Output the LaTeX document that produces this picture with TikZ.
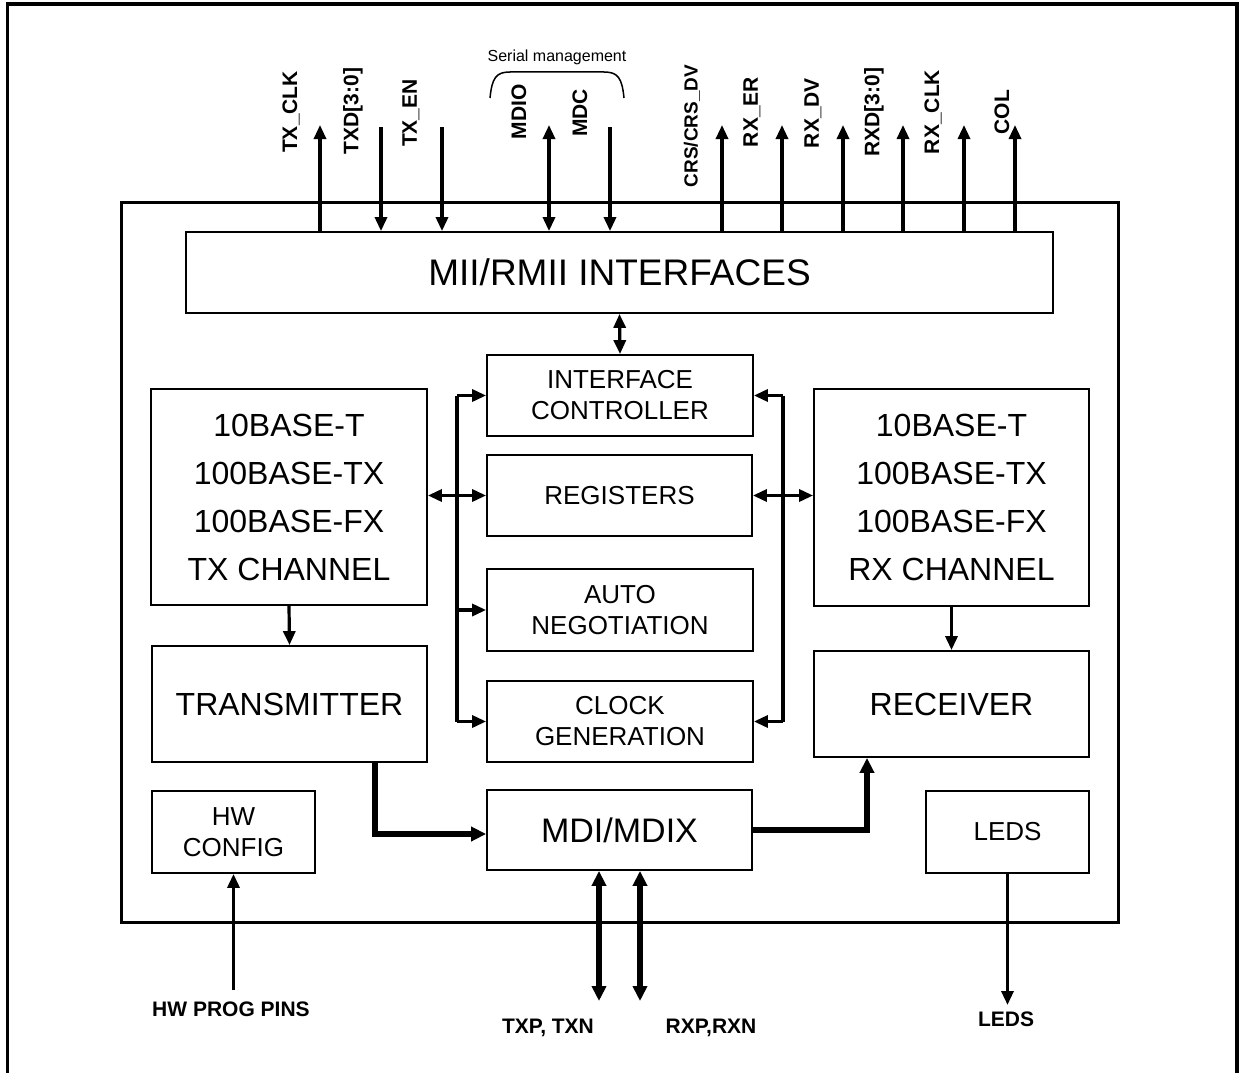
\documentclass[tikz,border=0pt]{standalone}
\usepackage{fontspec}
\setmainfont{Liberation Sans}
\usetikzlibrary{arrows.meta,calc}
\begin{document}
\begin{tikzpicture}[x=1pt,y=-1pt,
  box/.style={draw,line width=1.8pt,inner sep=0pt,align=center},
  conn/.style={line width=3.2pt},
  tipend/.style={-{Triangle[width=12pt,length=14pt]}},
  tipboth/.style={{Triangle[width=12pt,length=14pt]}-{Triangle[width=12pt,length=14pt]}},
  bigconn/.style={line width=5.5pt},
  bigend/.style={-{Triangle[width=14pt,length=15pt]}},
  bigboth/.style={{Triangle[width=14pt,length=15pt]}-{Triangle[width=14pt,length=15pt]}},
  sig/.style={font=\fontsize{21}{24}\selectfont\bfseries,rotate=90,inner sep=0pt},
  pin/.style={font=\fontsize{21}{24}\selectfont\bfseries,inner sep=0pt},
  midtxt/.style={font=\fontsize{26}{31}\selectfont},
  bigtxt/.style={font=\fontsize{32}{48}\selectfont}
]
\useasboundingbox (0,0) rectangle (1240,1073);
% outer frame (open at the bottom)
\draw[line width=3.5pt] (7.5,1073) -- (7.5,4) -- (1237,4) -- (1237,1073);

% main block
\node[draw,line width=3pt,inner sep=0pt,minimum width=997pt,minimum height=720pt] (main) at (619.5,562) {};

% boxes
\node[box,minimum width=867pt,minimum height=81pt,font=\fontsize{37}{44}\selectfont] (mii) at (619.5,272.5) {MII/RMII INTERFACES};
\node[box,midtxt,minimum width=266pt,minimum height=81pt] (ic) at (620,395.5) {INTERFACE\\CONTROLLER};
\node[box,midtxt,minimum width=265pt,minimum height=81pt] (reg) at (619.5,495.5) {REGISTERS};
\node[box,midtxt,minimum width=266pt,minimum height=82pt] (auto) at (620,610) {AUTO\\NEGOTIATION};
\node[box,midtxt,minimum width=266pt,minimum height=81pt] (clk) at (620,721.5) {CLOCK\\GENERATION};
\node[box,minimum width=265pt,minimum height=80pt,font=\fontsize{34}{40}\selectfont] (mdi) at (619.5,830) {MDI/MDIX};
\node[box,bigtxt,minimum width=276pt,minimum height=216pt] (txch) at (289,497) {10BASE-T\\100BASE-TX\\100BASE-FX\\TX CHANNEL};
\node[box,bigtxt,minimum width=275pt,minimum height=116pt] (tx) at (289.5,704) {TRANSMITTER};
\node[box,midtxt,minimum width=163pt,minimum height=82pt] (hw) at (233.5,832) {HW\\CONFIG};
\node[box,bigtxt,minimum width=275pt,minimum height=217pt] (rxch) at (951.5,497.5) {10BASE-T\\100BASE-TX\\100BASE-FX\\RX CHANNEL};
\node[box,bigtxt,minimum width=275pt,minimum height=106pt] (rx) at (951.5,704) {RECEIVER};
\node[box,midtxt,minimum width=163pt,minimum height=82pt] (leds) at (1007.5,832) {LEDS};

% internal connectors
\draw[conn,tipboth] (mii.south) -- (ic.north);
\coordinate (lbx) at (457,0);
\coordinate (rbx) at (783,0);
\draw[conn] (ic.west -| lbx) -- (clk.west -| lbx);
\draw[conn,tipend] (ic.west -| lbx) -- (ic.west);
\draw[conn,tipend] (auto.west -| lbx) -- (auto.west);
\draw[conn,tipend] (clk.west -| lbx) -- (clk.west);
\draw[conn,tipboth] (txch.east |- reg.west) -- (reg.west);
\draw[conn] (ic.east -| rbx) -- (clk.east -| rbx);
\draw[conn,tipend] (ic.east -| rbx) -- (ic.east);
\draw[conn,tipend] (clk.east -| rbx) -- (clk.east);
\draw[conn,tipboth] (reg.east) -- (rxch.west |- reg.east);
\draw[conn,tipend] (txch.south) -- (tx.north);
\draw[conn,tipend] (rxch.south) -- (rx.north);
\coordinate (tm) at (375,834);
\draw[bigconn,bigend] (tx.south -| tm) |- (mdi.west |- tm);
\coordinate (mr) at (867,830);
\draw[bigconn,bigend] (mdi.east |- mr) -| (rx.south -| mr);

% external pins
\coordinate (hwpin) at (233.5,990);
\draw[conn,tipend] (hwpin) -- (hw.south -| hwpin);
\coordinate (txp) at (599,1001);
\coordinate (rxp) at (640,1001);
\draw[bigconn,bigboth] (mdi.south -| txp) -- (txp);
\draw[bigconn,bigboth] (mdi.south -| rxp) -- (rxp);
\coordinate (ledp) at (1007.5,1005);
\draw[conn,tipend] (leds.south -| ledp) -- (ledp);

\node[pin] (lhw) at (231,1009) {HW PROG PINS};
\node[pin] (ltx) at (548,1028) {TXP, TXN};
\node[pin] (lrx) at (711,1028) {RXP,RXN};
\node[pin] (lled) at (1006,1019) {LEDS};

% top signals
\coordinate (s1) at (320,125);
\coordinate (s2) at (381,127);
\coordinate (s3) at (442,127);
\coordinate (s4) at (549,125);
\coordinate (s5) at (610,127);
\coordinate (s6) at (722,125);
\coordinate (s7) at (782,125);
\coordinate (s8) at (843,125);
\coordinate (s9) at (903,125);
\coordinate (s10) at (964,125);
\coordinate (s11) at (1015,125);
\draw[conn,tipend] (mii.north -| s1) -- (s1);
\draw[conn,tipend] (s2) -- (mii.north -| s2);
\draw[conn,tipend] (s3) -- (mii.north -| s3);
\draw[conn,tipboth] (s4) -- (mii.north -| s4);
\draw[conn,tipend] (s5) -- (mii.north -| s5);
\foreach \s in {s6,s7,s8,s9,s10,s11}{
  \draw[conn,tipend] (mii.north -| \s) -- (\s);
}
\node[sig] (l1) at (291,112) {TX\_CLK};
\node[sig] (l2) at (353,111) {TXD[3:0]};
\node[sig] (l3) at (411,113) {TX\_EN};
\node[sig] (l4) at (519,112) {MDIO};
\node[sig] (l5) at (580,113) {MDC};
\node[sig,font=\fontsize{19}{22}\selectfont\bfseries] (l6) at (692,126) {CRS/CRS\_DV};
\node[sig] (l7) at (752,112) {RX\_ER};
\node[sig] (l8) at (813,113) {RX\_DV};
\node[sig] (l9) at (874,112) {RXD[3:0]};
\node[sig] (l10) at (933,112) {RX\_CLK};
\node[sig] (l11) at (1002,112) {COL};

% serial management brace
\node[font=\fontsize{16}{19}\selectfont,inner sep=0pt] (sm) at (557,57) {Serial management};
\draw[line width=1.5pt] (490,98) .. controls (492,78) and (496,72) .. (510,72) -- (604,72) .. controls (618,72) and (622,78) .. (624,98);
\end{tikzpicture}
\end{document}
